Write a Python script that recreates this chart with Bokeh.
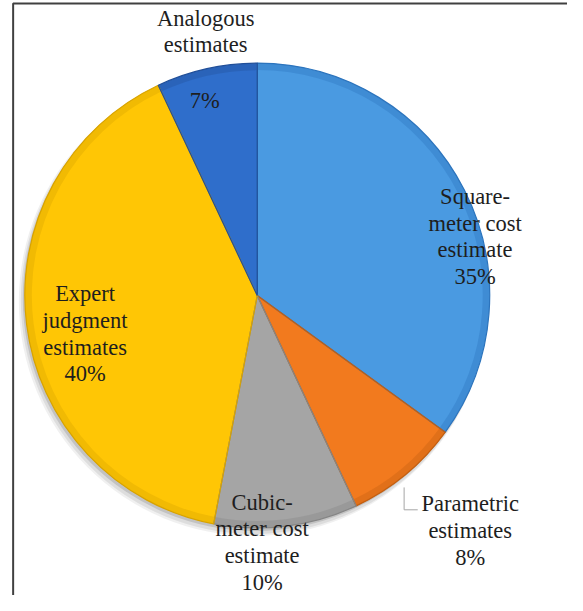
import numpy as np
from bokeh.plotting import figure
from bokeh.models import Range1d, ColumnDataSource
from bokeh.core.properties import value
from bokeh.embed import file_html
from bokeh.resources import INLINE

# ---- data ----
categories = ["Square-meter cost estimate", "Parametric estimates",
              "Cubic-meter cost estimate", "Expert judgment estimates",
              "Analogous estimates"]
label_lines = [["Square-", "meter cost", "estimate"],
               ["Parametric", "estimates"],
               ["Cubic-", "meter cost", "estimate"],
               ["Expert", "judgment", "estimates"],
               ["Analogous", "estimates"]]
values = [35, 8, 10, 40, 7]
colors = ["#4A9AE1", "#F27A1E", "#A5A5A5", "#FFC605", "#2F6ECB"]
edge_colors = ["#2C74BD", "#C45F10", "#858585", "#D8A300", "#214F99"]

# ---- layout ----
W, H = 567, 595
SX, SY = W / 583, H / 611          # reference-pixel -> plot-pixel scale


def P(X, Y):
    """reference pixel (y down) -> plot data coords (y up)"""
    return X * SX, H - Y * SY


CX, CY = P(264, 303)
R = 239 * SX
LINE = 27.5 * SY
FONT = "22.5px"
FONT_FAMILY = value("Liberation Serif")

p = figure(width=W, height=H, x_range=Range1d(0, W), y_range=Range1d(0, H),
           output_backend="svg", toolbar_location=None, min_border=0,
           x_axis_type=None, y_axis_type=None)
p.grid.visible = False
p.outline_line_color = None
p.background_fill_color = "white"
p.border_fill_color = "white"

# frame (left and top border of the picture)
fx0, fy0 = P(13, 3)
p.line(x=[fx0, fx0, W], y=[0, fy0, fy0], line_color="#404040", line_width=2)

# soft shadow
for dx, dy, dr, a in [(-4, -6, 2, 0.06), (-3, -5, 1, 0.08), (-2, -3, 0, 0.12)]:
    p.circle(x=[CX + dx], y=[CY + dy], radius=R + dr, fill_color="black",
             fill_alpha=a, line_color=None)

vals = np.array(values, dtype=float)
frac = vals / vals.sum()
cum = np.concatenate([[0], np.cumsum(frac)])
start = np.pi / 2 - cum[:-1] * 2 * np.pi
end = np.pi / 2 - cum[1:] * 2 * np.pi

src = ColumnDataSource(dict(x=[CX] * len(values), y=[CY] * len(values),
                            start=start, end=end, color=colors,
                            edge=edge_colors, cat=categories))
p.wedge(x="x", y="y", radius=R, start_angle="start", end_angle="end",
        direction="clock", fill_color="color", line_color=None, source=src)
# darker bevel at the rim
p.annular_wedge(x="x", y="y", inner_radius=R - 7, outer_radius=R,
                start_angle="start", end_angle="end", direction="clock",
                fill_color="edge", fill_alpha=0.35, line_color=None, source=src)
p.wedge(x="x", y="y", radius=R, start_angle="start", end_angle="end",
        direction="clock", fill_color=None, line_color="edge",
        line_width=1.2, source=src)


def txt(X, Y0, lines, color="#1E1E1E"):
    x, y0 = P(X, Y0)
    ys = [y0 - i * LINE for i in range(len(lines))]
    p.text(x=[x] * len(lines), y=ys, text=lines,
           text_font=FONT_FAMILY, text_font_size=FONT,
           text_align="center", text_baseline="middle", text_color=color)


pct = [f"{v}%" for v in values]

txt(488, 201, label_lines[0] + [pct[0]])       # Square-meter
txt(483, 517, label_lines[1] + [pct[1]])       # Parametric
lx, ly0 = P(415, 500)
_, ly1 = P(415, 523)
lx1, _ = P(429, 523)
p.line(x=[lx, lx, lx1], y=[ly0, ly1, ly1], line_color="#A6A6A6", line_width=1)
txt(269, 515, label_lines[2] + [pct[2]])       # Cubic-meter
txt(87, 301, label_lines[3] + [pct[3]])        # Expert
txt(211, 18, label_lines[4])                   # Analogous
txt(210, 103, [pct[4]])

open("out.html", "w").write(file_html(p, INLINE))
